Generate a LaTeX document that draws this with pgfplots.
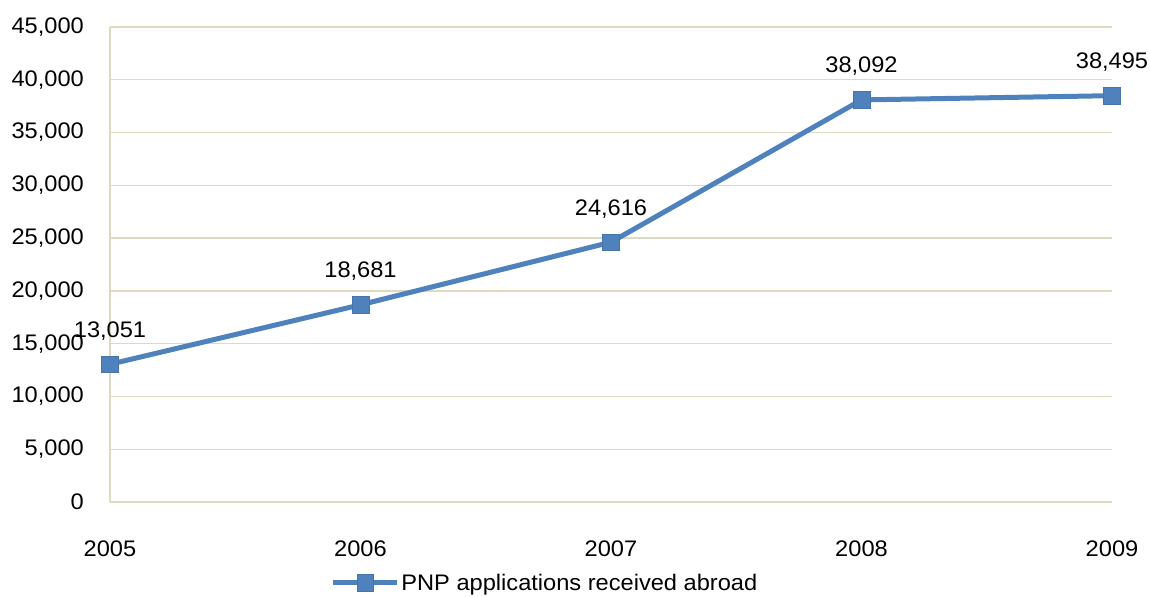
\documentclass[border=0pt]{standalone}
\usepackage{fontspec}
\setmainfont{Liberation Sans}[FakeStretch=1.05]
\usepackage{pgfplots}
\pgfplotsset{compat=1.18}
\definecolor{pnpblue}{HTML}{4F81BD}
\definecolor{gridtan}{HTML}{DDD9C3}

\begin{document}
\begin{tikzpicture}
\begin{axis}[
  name=ax,
  scale only axis,
  width=1002pt, height=475pt,
  xmin=2005, xmax=2009,
  ymin=0, ymax=45000,
  xtick={2005,2006,2007,2008,2009},
  xticklabels={2005,2006,2007,2008,2009},
  ytick={0,5000,...,45000},
  scaled y ticks=false,
  ymajorgrids,
  major grid style={gridtan, line width=1.4pt},
  axis x line*=bottom, axis y line*=left,
  axis line style={gridtan, line width=1.4pt, -},
  major tick length=0pt,
  clip=false,
  font=\fontsize{22.5}{25}\selectfont,
  /pgf/number format/.cd, fixed, 1000 sep={,}, assume math mode=true,
  /pgfplots/.cd,
  yticklabel style={anchor=east, inner sep=0pt, xshift=-26pt},
  xticklabel style={anchor=north, inner sep=0pt, yshift=-39pt},
  nodes near coords,
  nodes near coords style={anchor=base, inner sep=0pt, yshift=27pt, text=black},
  legend style={draw=none, fill=none, at={(0.434,-0.17)}, anchor=center,
    inner sep=0pt, nodes={inner sep=1.5pt}},
  legend image code/.code={\draw[mark repeat=2, mark phase=2, #1]
    plot coordinates {(0pt,0pt) (32pt,0pt) (64pt,0pt)};},
]
\addplot[pnpblue, line width=5pt, mark=square*, mark size=8.3pt,
  mark options={solid, fill=pnpblue, draw=pnpblue!90!black, line width=0.6pt}]
  coordinates {
    (2005, 13051)
    (2006, 18681)
    (2007, 24616)
    (2008, 38092)
    (2009, 38495)
  };
\legend{PNP applications received abroad}
\end{axis}
\pgfresetboundingbox
\path[use as bounding box] ([shift={(-110pt,-94pt)}]ax.south west) rectangle ([shift={(38pt,27pt)}]ax.north east);
\end{tikzpicture}
\end{document}
